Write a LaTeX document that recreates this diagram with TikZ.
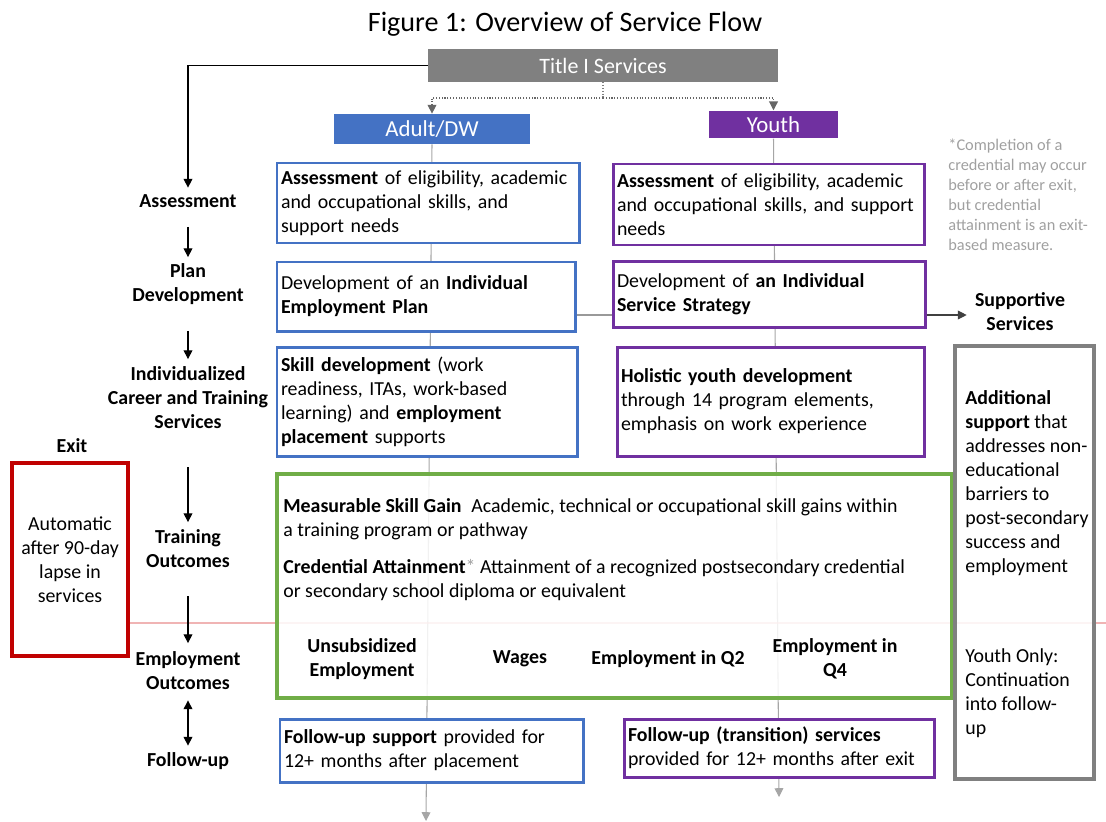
\documentclass[tikz,border=0pt]{standalone}
\usepackage{fontspec}
\setmainfont{Carlito}
\usetikzlibrary{arrows.meta,backgrounds}

\definecolor{adultblue}{RGB}{68,114,196}
\definecolor{youthpurple}{RGB}{112,48,160}
\definecolor{outgreen}{RGB}{112,173,71}
\definecolor{exitred}{RGB}{192,0,0}
\definecolor{boxgray}{RGB}{128,128,128}
\definecolor{linegray}{RGB}{191,191,191}
\definecolor{notegray}{RGB}{160,160,160}
\definecolor{lapsered}{RGB}{232,140,140}

\begin{document}
\begin{tikzpicture}[
  >={Triangle[length=5pt,width=5pt]},
  every node/.style={font=\fontsize{11.3}{13.66}\selectfont},
  adultbox/.style={draw=adultblue, line width=1.7pt, fill=white, inner xsep=0.08cm, align=left},
  youthbox/.style={draw=youthpurple, line width=1.7pt, fill=white, inner xsep=0.08cm, align=left},
  widebox/.style={line width=2.3pt, fill=white, fill opacity=0.85},
  headbox/.style={text=white, font=\fontsize{13}{15}\selectfont},
  steplabel/.style={font=\fontsize{11.3}{13.66}\selectfont\bfseries, align=center, inner sep=0},
  boxtext/.style={align=left, inner sep=0},
  flowline/.style={draw=linegray, line width=0.6pt},
  splitline/.style={draw=gray, densely dotted, line width=0.6pt}
]
\useasboundingbox (0,0) rectangle (22.12,-16.42);

\node[font=\fontsize{16}{19}\selectfont] (figtitle) at (11.3, -0.48) {Figure 1: Overview of Service Flow};

\node[fill=boxgray, headbox, font=\fontsize{12.5}{15}\selectfont, minimum width=7cm, minimum height=0.66cm] (titleone) at (12.06, -1.31) {Title I Services};
\node[fill=adultblue, headbox, minimum width=3.92cm, minimum height=0.6cm] (adult) at (8.64, -2.58) {Adult/DW};
\node[fill=youthpurple, headbox, minimum width=2.58cm, minimum height=0.54cm] (youth) at (15.47, -2.49) {Youth};
\coordinate (split) at (12.06, -1.96);

% step labels on the left
\node[steplabel] (lassess) at (3.76, -4.02) {Assessment};
\node[steplabel] (lplan) at (3.76, -5.68) {Plan\\Development};
\node[steplabel] (lcareer) at (3.76, -7.96) {Individualized\\Career and Training\\Services};
\node[steplabel] (ltrain) at (3.76, -10.98) {Training\\Outcomes};
\node[steplabel] (lemploy) at (3.76, -13.42) {Employment\\Outcomes};
\node[steplabel] (lfollow) at (3.76, -15.22) {Follow-up};

\node[steplabel] (lexit) at (1.44, -8.92) {Exit};
\node[draw=exitred, line width=2.3pt, fill=white, align=center, minimum width=2.32cm, minimum height=3.86cm] (exit) at (1.4, -11.19) {Automatic\\after 90-day\\lapse in\\services};

% adult and youth boxes
\node[adultbox, minimum width=6.04cm, minimum height=1.6cm, text width=5.88cm] (aassess) at (8.56, -4.06) {\textbf{Assessment} of eligibility, academic\\and occupational skills, and\\support needs};
\node[youthbox, minimum width=6.22cm, minimum height=1.62cm, text width=6.06cm] (yassess) at (15.37, -4.09) {\textbf{Assessment} of eligibility, academic\\and occupational skills, and support\\needs};

\node[adultbox, minimum width=5.96cm, minimum height=1.38cm, text width=5.8cm] (aplan) at (8.52, -5.93) {Development of an \textbf{Individual}\\\textbf{Employment Plan}};
\node[youthbox, minimum width=6.24cm, minimum height=1.32cm, text width=6.08cm] (yplan) at (15.38, -5.88) {Development of \textbf{an Individual}\\\textbf{Service Strategy}};

\node[adultbox, minimum width=6cm, minimum height=2.18cm, text width=5.84cm] (askill) at (8.54, -8.03) {\textbf{Skill development} (work\\readiness, ITAs, work-based\\learning) and \textbf{employment}\\\textbf{placement} supports};
\node[youthbox, minimum width=6.14cm, minimum height=2.18cm, text width=5.98cm] (yholistic) at (15.41, -8.03) {\textbf{Holistic youth development}\\through 14 program elements,\\emphasis on work experience};

% outcomes
\node[widebox, draw=outgreen, minimum width=13.5cm, minimum height=4.48cm] (outcomes) at (12.29, -11.72) {};
\node[boxtext, anchor=west] (msg) at (5.66, -10.38) {\textbf{Measurable Skill Gain}\enspace Academic, technical or occupational skill gains within\\a training program or pathway};
\node[boxtext, anchor=west] (cred) at (5.66, -11.6) {\textbf{Credential Attainment}\textcolor{notegray}{*} Attainment of a recognized postsecondary credential\\or secondary school diploma or equivalent};
\node[steplabel] (eunsub) at (7.24, -13.18) {Unsubsidized\\Employment};
\node[steplabel] (ewages) at (10.4, -13.18) {Wages};
\node[steplabel] (eqtwo) at (13.36, -13.18) {Employment in Q2};
\node[steplabel] (eqfour) at (16.7, -13.18) {Employment in\\Q4};

\node[adultbox, minimum width=6.06cm, minimum height=1.26cm, text width=5.9cm] (afollow) at (8.63, -15.01) {\textbf{Follow-up support} provided for\\12+ months after placement};
\node[youthbox, minimum width=6.2cm, minimum height=1.16cm, text width=6.04cm] (yfollow) at (15.58, -14.96) {\textbf{Follow-up (transition) services}\\provided for 12+ months after exit};

% supportive services
\node[steplabel] (supportive) at (20.4, -6.24) {Supportive\\Services};
\node[widebox, draw=boxgray, minimum width=2.78cm, minimum height=8.66cm] (support) at (20.49, -11.25) {};
\node[boxtext, anchor=west] (sadd) at (19.3, -9.66) {\textbf{Additional}\\\textbf{support} that\\addresses non-\\educational\\barriers to\\post-secondary\\success and\\employment};
\node[boxtext, anchor=west] (syouth) at (19.3, -13.86) {Youth Only:\\Continuation\\into follow-\\up};

\node[boxtext, anchor=north west, text=notegray, font=\fontsize{9.3}{11.4}\selectfont] (note) at (18.96, -2.77) {*Completion of a\\credential may occur\\before or after exit,\\but credential\\attainment is an exit-\\based measure.};

\coordinate (abottom) at (8.52, -16.42);
\coordinate (ybottom) at (15.58, -15.94);
\coordinate (lapseend) at (22.12, -12.46);

\begin{scope}[on background layer]
\draw[flowline, ->, gray!70] (adult.south) -- (abottom);
\draw[flowline, ->, gray!70] (youth.south) -- (ybottom);
\draw[flowline, draw=gray!80] ([yshift=-0.37cm]aplan.east) -- ([yshift=-0.37cm]aplan.east -| yplan.west);
\draw[draw=lapsered, line width=0.6pt] ([yshift=-1.27cm]exit.east) -- (lapseend);
\end{scope}

\draw[splitline] (titleone.south) -- (split);
\draw[splitline, ->, gray!80!black] (split) -| (adult.north);
\draw[splitline, ->, gray!80!black] (split) -| (youth.north);

\draw[->, line width=0.6pt] (titleone.west) -| ([yshift=0.13cm]lassess.north);
\draw[->, line width=0.6pt, shorten <=0.38cm, shorten >=0.12cm] (lassess) -- (lplan);
\draw[->, line width=0.6pt, shorten <=0.52cm, shorten >=0.15cm] (lplan) -- (lcareer);
\draw[->, line width=0.6pt, shorten <=0.76cm, shorten >=0.15cm] (lcareer) -- (ltrain);
\draw[->, line width=0.6pt, shorten <=0.56cm, shorten >=0.17cm] (ltrain) -- (lemploy);
\draw[<->, line width=0.6pt, shorten <=0.2cm, shorten >=0.13cm] (lemploy) -- (lfollow);

\draw[->, line width=0.6pt, black!75, shorten >=0.16cm] ([yshift=-0.42cm]yplan.east) -- ([yshift=-0.42cm]yplan.east -| supportive.west);
\end{tikzpicture}
\end{document}
